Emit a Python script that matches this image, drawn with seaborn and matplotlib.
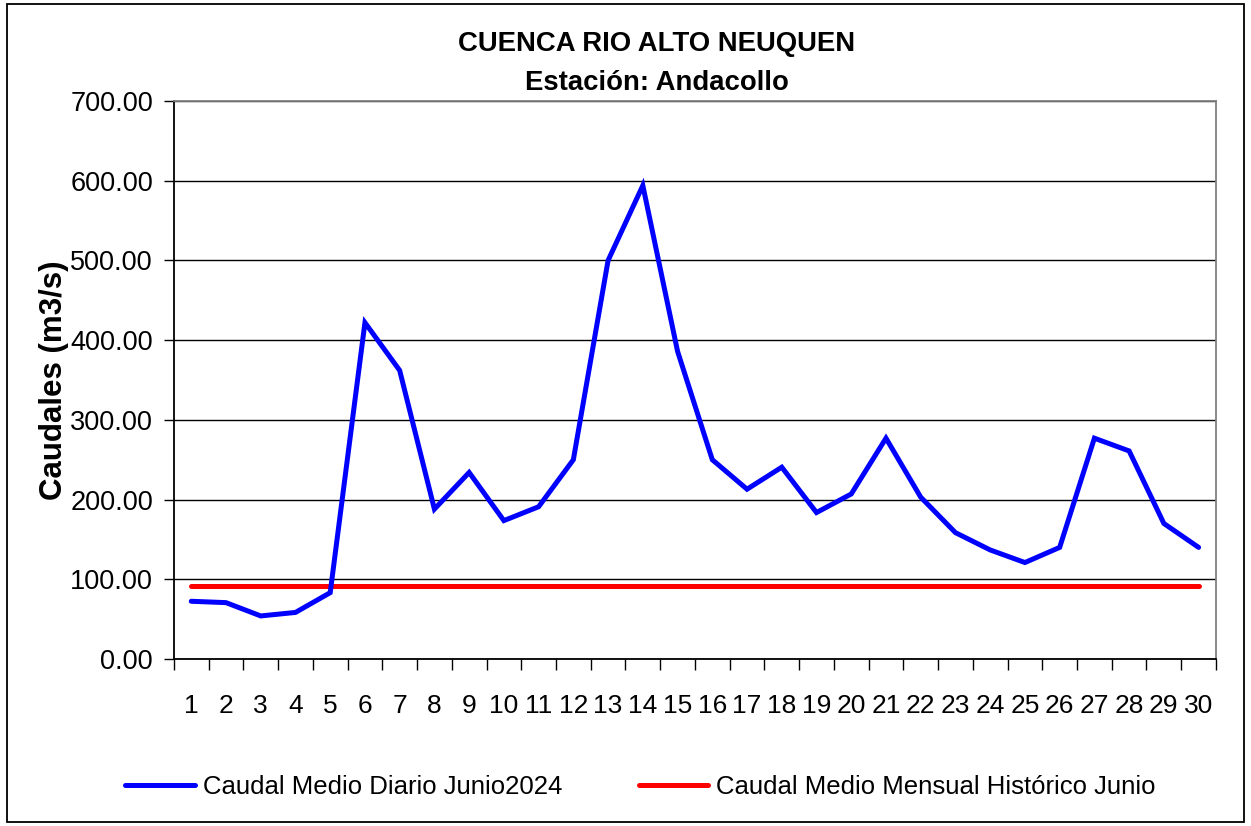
"""Caudal medio diario Junio 2024 - Estación Andacollo (Cuenca Río Alto Neuquén)."""

import matplotlib

matplotlib.use("Agg")
import matplotlib.pyplot as plt
import pandas as pd
import seaborn as sns
from matplotlib.lines import Line2D
from matplotlib.patches import Rectangle
from matplotlib.ticker import FixedLocator, FormatStrFormatter

dias = list(range(1, 31))
caudal_diario = [
    72.4, 70.7, 54.0, 58.4, 83.2, 422.0, 362.0, 188.0, 234.0, 173.6,
    191.0, 250.0, 500.0, 594.0, 386.0, 250.0, 213.0, 240.6, 183.7, 207.0,
    277.0, 203.0, 158.5, 136.8, 121.0, 140.0, 277.0, 261.0, 170.0, 140.0,
]
caudal_historico = [91.3] * 30
y_ticks = [0, 100, 200, 300, 400, 500, 600, 700]

df = pd.DataFrame(
    {"dia": dias, "diario": caudal_diario, "historico": caudal_historico}
)

sns.set_style("white")
plt.rcParams["font.family"] = ["Liberation Sans", "DejaVu Sans"]
plt.rcParams.update({
    "text.color": "black",
    "axes.labelcolor": "black",
    "xtick.color": "black",
    "ytick.color": "black",
})

fig = plt.figure(figsize=(12.51, 8.26), dpi=100)
ax = fig.add_axes([0.139, 0.2022, 0.833, 0.6755])

sns.lineplot(data=df, x="dia", y="historico", ax=ax, color="#ff0000",
             linewidth=3.6, solid_capstyle="round", zorder=3)
sns.lineplot(data=df, x="dia", y="diario", ax=ax, color="#0000ff",
             linewidth=3.6, solid_joinstyle="miter", zorder=4)

ax.set_xlim(0.5, 30.5)
ax.set_ylim(0, 700)
ax.yaxis.set_major_locator(FixedLocator(y_ticks))
ax.yaxis.set_major_formatter(FormatStrFormatter("%.2f"))
ax.grid(axis="y", color="#000000", linewidth=1.0)
ax.set_axisbelow(True)

ax.set_xticks(dias)
ax.set_xticklabels([str(d) for d in dias])
ax.set_xticks([d + 0.5 for d in [0] + dias], minor=True)
ax.tick_params(axis="x", which="major", length=0, pad=25, labelsize=19)
ax.tick_params(axis="x", which="minor", length=8, width=1, color="black",
               direction="out", bottom=True)
ax.tick_params(axis="y", which="major", length=7, width=1, color="black",
               direction="out", left=True, labelsize=19.5, pad=8)

for side in ["left", "bottom"]:
    ax.spines[side].set_color("black")
    ax.spines[side].set_linewidth(1.3)
for side in ["right", "top"]:
    ax.spines[side].set_color("#808080")
    ax.spines[side].set_linewidth(1.3)

ax.set_xlabel("")
ax.set_ylabel("Caudales (m3/s)", fontsize=22.5, fontweight="bold", labelpad=1)

fig.text(0.525, 0.947, "CUENCA RIO ALTO NEUQUEN", ha="center", va="center",
         fontsize=19.8, fontweight="bold")
fig.text(0.525, 0.900, "Estación: Andacollo", ha="center", va="center",
         fontsize=19.8, fontweight="bold")

handles = [
    Line2D([], [], color="#0000ff", linewidth=3.6),
    Line2D([], [], color="#ff0000", linewidth=3.6),
]
labels = ["Caudal Medio Diario Junio2024", "Caudal Medio Mensual Histórico Junio"]
fig.legend(handles, labels, loc="center", bbox_to_anchor=(0.512, 0.047),
           ncol=2, frameon=False, fontsize=18.5, handlelength=2.7,
           handletextpad=0.3, columnspacing=3.0)

fig.patches.append(Rectangle((0.0056, 0.005), 0.9888, 0.99, fill=False,
                             edgecolor="black", linewidth=1.3,
                             transform=fig.transFigure, figure=fig))

fig.savefig("out.png", dpi=100)
